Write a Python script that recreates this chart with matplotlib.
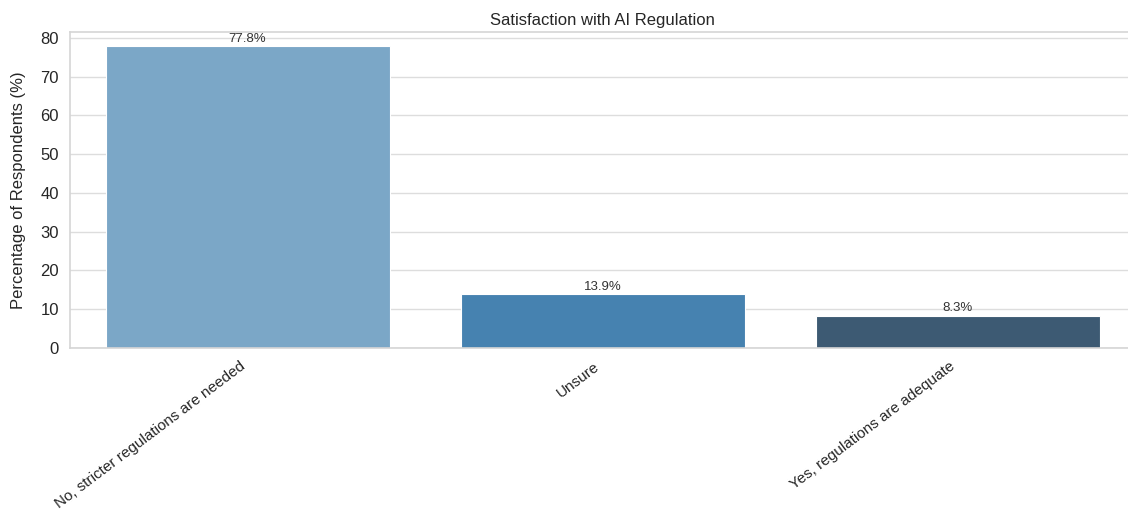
import matplotlib
matplotlib.use("Agg")
import matplotlib.pyplot as plt

categories = ["No, stricter regulations are needed", "Unsure", "Yes, regulations are adequate"]
values = [77.8, 13.9, 8.3]
labels = ["77.8%", "13.9%", "8.3%"]
colors = ["#7BA7C7", "#4682B0", "#3D5A73"]
yticks = [0, 10, 20, 30, 40, 50, 60, 70, 80]

plt.rcParams['font.family'] = ['Liberation Sans', 'DejaVu Sans']

fig = plt.figure(figsize=(11.28, 5.15), dpi=100)
ax = fig.add_axes([70/1128, 1-348/515, 1065/1128, 316/515])

x = list(range(len(categories)))
bars = ax.bar(x, values, width=0.8, color=colors, edgecolor="white", linewidth=0.8, zorder=2)
for xi, v, lab in zip(x, values, labels):
    ax.text(xi, v + 0.4, lab, ha="center", va="bottom", fontsize=9.5, color="#333333", zorder=3)

ax.set_xlim(-0.5, len(categories) - 0.5)
ax.set_ylim(0, 81.5)
ax.set_yticks(yticks)
ax.set_xticks(x)
ax.set_xticklabels(categories, rotation=37, ha="right", fontsize=11, color="#262626")
ax.tick_params(axis="y", labelsize=12, colors="#262626", length=0, pad=8)
ax.tick_params(axis="x", length=0, pad=8)
ax.yaxis.grid(True, color="#DDDDDD", linewidth=1.0, zorder=0)
ax.xaxis.grid(False)
ax.set_axisbelow(True)
for s in ax.spines.values():
    s.set_color("#D5D5D5")
    s.set_linewidth(1.2)
ax.set_ylabel("Percentage of Respondents (%)", fontsize=12, color="#262626", labelpad=10)
ax.set_title("Satisfaction with AI Regulation", fontsize=12, color="#262626", pad=5)

fig.savefig("out.png", dpi=100)
